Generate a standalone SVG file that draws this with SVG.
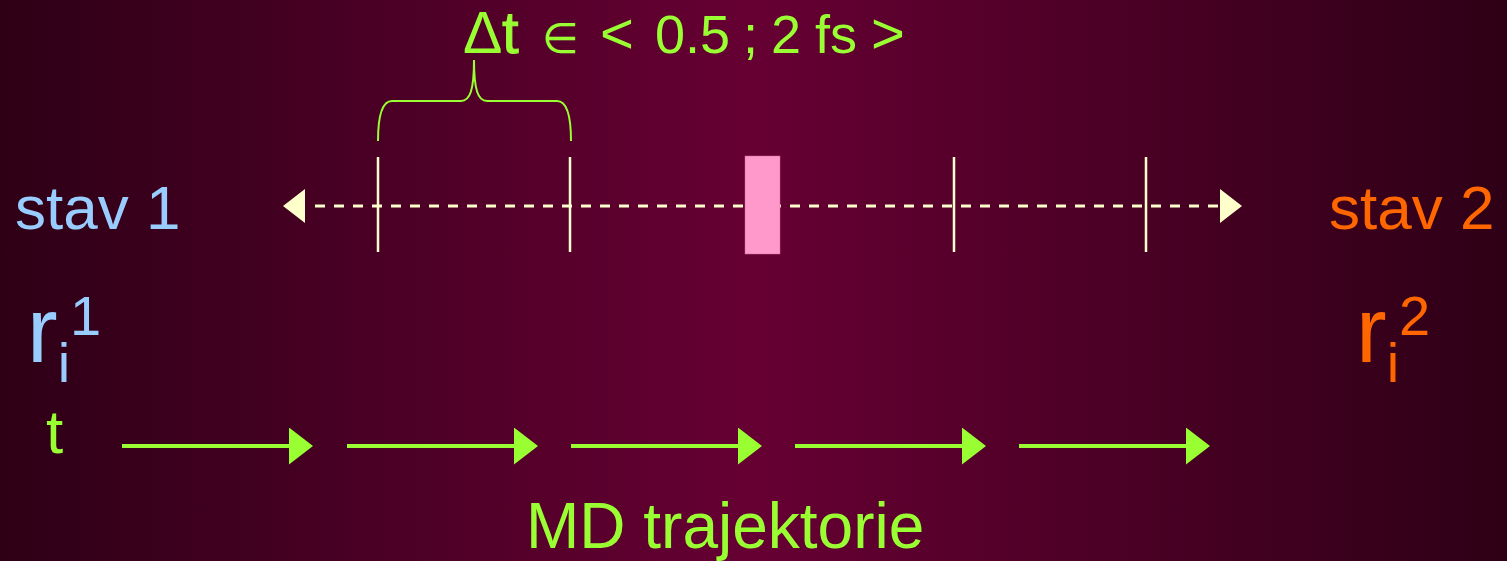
<svg xmlns="http://www.w3.org/2000/svg" width="1507" height="561" viewBox="0 0 1507 561">
<defs>
<linearGradient id="bg" x1="0" y1="0" x2="1" y2="0">
<stop offset="0" stop-color="#2e0016"/>
<stop offset="0.5" stop-color="#660033"/>
<stop offset="1" stop-color="#2e0016"/>
</linearGradient>
<marker id="gh" viewBox="0 0 24 37" refX="0" refY="18.5" markerWidth="24" markerHeight="37" markerUnits="userSpaceOnUse" orient="auto">
<polygon points="0,0 24,18.5 0,37" fill="#99ff33"/>
</marker>
</defs>
<style>
.t{font-family:"Liberation Sans",Arial,sans-serif}
.g{fill:#99ff33}
.b{fill:#99ccff}
.o{fill:#ff6600}
.tick{stroke:#ffffcc;stroke-width:2.5}
.step{stroke:#99ff33;stroke-width:4;marker-end:url(#gh)}
</style>
<rect width="1507" height="561" fill="url(#bg)"/>
<g id="timeline">
<line x1="315" y1="206" x2="1222" y2="206" stroke="#ffffcc" stroke-width="3" stroke-dasharray="10 9"/>
<polygon points="283,206 305,189 305,223" fill="#ffffcc"/>
<polygon points="1242,206 1220,189 1220,223" fill="#ffffcc"/>
<line class="tick" x1="378" y1="157" x2="378" y2="252"/>
<line class="tick" x1="570" y1="157" x2="570" y2="252"/>
<line class="tick" x1="954" y1="157" x2="954" y2="252"/>
<line class="tick" x1="1146" y1="157" x2="1146" y2="252"/>
</g>
<g id="marker-box">
<rect x="745" y="156" width="35" height="98" fill="#ff99cc" stroke="#cc6699" stroke-width="0.5"/>
</g>
<g id="brace">
<path d="M378,141 C378,115 382,101 392,101 L461,101 C470,101 474,90 474,60 C474,90 478,101 487,101 L557,101 C567,101 571,115 571,141" fill="none" stroke="#99ff33" stroke-width="2"/>
</g>
<g id="dt-label" class="t g">
<text x="463" y="53" font-size="59">Δ</text>
<text x="502" y="53" font-size="60" stroke="#99ff33" stroke-width="1">t</text>
<text x="542" y="53" font-size="42" font-family="DejaVu Sans, sans-serif">∈</text>
<text x="600" y="53" font-size="58">&lt;</text>
<text x="655" y="53" font-size="54">0.5</text>
<text x="743" y="53" font-size="54">;</text>
<text x="771" y="53" font-size="54">2</text>
<text x="815" y="53" font-size="54">fs</text>
<text x="871" y="53" font-size="58">&gt;</text>
</g>
<g id="stav1" class="t b">
<text x="15" y="229" font-size="62">stav 1</text>
<text x="27" y="362" font-size="92">r<tspan font-size="56" y="382">i</tspan><tspan font-size="56" y="335">1</tspan></text>
</g>
<g id="stav2" class="t o">
<text x="1329" y="229" font-size="62">stav 2</text>
<text x="1356" y="362" font-size="92">r<tspan font-size="56" y="382">i</tspan><tspan font-size="56" y="335">2</tspan></text>
</g>
<g id="time-label" class="t g">
<text x="46" y="453" font-size="62">t</text>
</g>
<g id="connectors">
<line class="step" x1="122" y1="446" x2="289" y2="446"/>
<line class="step" x1="347" y1="446" x2="514" y2="446"/>
<line class="step" x1="571" y1="446" x2="738" y2="446"/>
<line class="step" x1="795" y1="446" x2="962" y2="446"/>
<line class="step" x1="1019" y1="446" x2="1186" y2="446"/>
</g>
<g id="md-label" class="t g">
<text x="526" y="548" font-size="64">MD trajektorie</text>
</g>
</svg>
